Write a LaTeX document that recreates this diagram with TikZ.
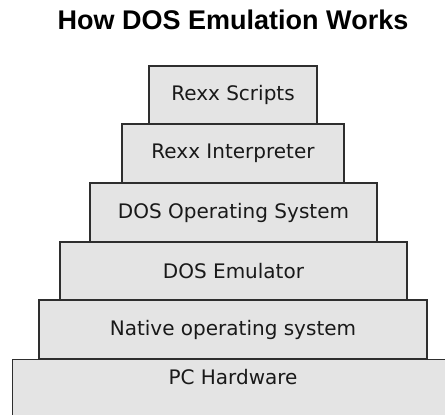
\documentclass[tikz,border=0pt]{standalone}
\usepackage{fontspec}
\setmainfont{DejaVu Sans}
\newfontfamily\titlefont{Liberation Sans}
\definecolor{layerfill}{HTML}{E4E4E4}
\definecolor{layerline}{HTML}{2E2E2E}
\tikzset{
  layer/.style={draw=layerline, fill=layerfill, line width=1.3pt, rectangle, inner sep=0pt,
    font=\fontsize{20}{24}\selectfont, text=black!90},
  layertext/.style={inner sep=0pt, font=\fontsize{20}{24}\selectfont, text=black!90},
  titlestyle/.style={inner sep=0pt, font=\titlefont\bfseries\fontsize{27}{32}\selectfont}
}
\begin{document}
\begin{tikzpicture}[x=1pt,y=-1pt]
\useasboundingbox (0,0) rectangle (445,415);
\clip (0,0) rectangle (445,415);
\node[titlestyle] (title) at (233,20) {How DOS Emulation Works};
\node[layer, minimum width=442pt, minimum height=72pt, anchor=north west] (l6) at (12,359) {};
\node[layertext] (t6) at (233,377) {PC Hardware};
\node[layer, minimum width=388pt, minimum height=59pt] (l5) at (233,329.5) {Native operating system};
\node[layer, minimum width=347pt, minimum height=58pt] (l4) at (233.5,271) {DOS Emulator};
\node[layer, minimum width=287pt, minimum height=59pt] (l3) at (233.5,212.5) {DOS Operating System};
\node[layer, minimum width=222pt, minimum height=59pt] (l2) at (233,153.5) {Rexx Interpreter};
\node[layer, minimum width=168pt, minimum height=58pt] (l1) at (233,95) {Rexx Scripts};
\end{tikzpicture}
\end{document}
